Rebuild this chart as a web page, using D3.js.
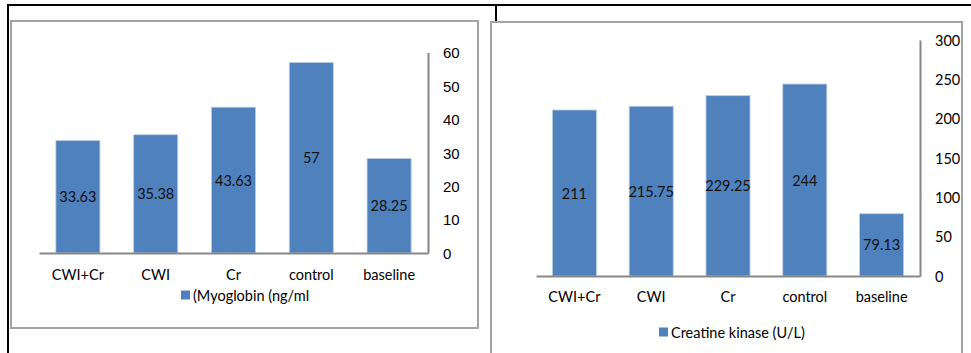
<!DOCTYPE html>
<html>
<head>
<meta charset="utf-8">
<script src="https://cdn.jsdelivr.net/npm/d3@7"></script>
<style>
  html, body { margin: 0; padding: 0; background: #fff; }
  svg { display: block; }
  .cal { font-family: Lato, "Open Sans", sans-serif; }
  .ari { font-family: "Liberation Sans", Arial, sans-serif; }
</style>
</head>
<body>
<svg id="chart" width="971" height="353"></svg>
<script>
// Groups shared by both panels
const categories = ["CWI+Cr", "CWI", "Cr", "control", "baseline"];

// Myoglobin panel
const myoglobinValues = [33.63, 35.38, 43.63, 57, 28.25];
const myoglobinTicks = [0, 10, 20, 30, 40, 50, 60];
const myoglobinLegend = "(Myoglobin (ng/ml";

// Creatine kinase panel
const ckValues = [211, 215.75, 229.25, 244, 79.13];
const ckTicks = [0, 50, 100, 150, 200, 250, 300];
const ckLegend = "Creatine kinase (U/L)";

const BAR = "#4f81bd";
const AXIS = "#878787";
const FRAME = "#a3a3a3";

const svg = d3.select("#chart");

// Page rules (table borders)
svg.append("line").attr("x1", 7).attr("x2", 971).attr("y1", 5).attr("y2", 5)
  .attr("stroke", "#000").attr("stroke-width", 2);
svg.append("line").attr("x1", 8).attr("x2", 8).attr("y1", 4).attr("y2", 353)
  .attr("stroke", "#000").attr("stroke-width", 2);
svg.append("line").attr("x1", 496).attr("x2", 496).attr("y1", 4).attr("y2", 21)
  .attr("stroke", "#000").attr("stroke-width", 2);

function panel(cfg) {
  const g = svg.append("g");

  // chart area frame
  g.append("rect")
    .attr("x", cfg.frame[0]).attr("y", cfg.frame[1])
    .attr("width", cfg.frame[2]).attr("height", cfg.frame[3])
    .attr("fill", "#fff").attr("stroke", FRAME).attr("stroke-width", 2);

  const x = d3.scaleBand()
    .domain(categories)
    .range([cfg.left, cfg.right])
    .paddingInner(cfg.padIn)
    .paddingOuter(cfg.padIn / 2);

  const y = d3.scaleLinear()
    .domain([0, d3.max(cfg.ticks)])
    .range([cfg.bottom, cfg.top]);

  // bars
  g.selectAll("rect.bar")
    .data(cfg.values)
    .join("rect")
    .attr("class", "bar")
    .attr("x", (d, i) => x(categories[i]))
    .attr("width", x.bandwidth())
    .attr("y", d => y(d))
    .attr("height", d => y(0) - y(d))
    .attr("fill", BAR)
    .attr("stroke", "#b8cce4")
    .attr("stroke-width", 0.8);

  // value labels in the middle of each bar
  g.selectAll("text.val")
    .data(cfg.values)
    .join("text")
    .attr("class", "val cal")
    .attr("x", (d, i) => x(categories[i]) + x.bandwidth() / 2)
    .attr("y", d => (y(d) + y(0)) / 2)
    .attr("text-anchor", "middle")
    .attr("dominant-baseline", "central")
    .attr("font-size", 14.5)
    .attr("fill", "#111")
    .text(d => d);

  // value axis on the right
  const ya = g.append("g")
    .attr("transform", `translate(${cfg.right},0)`)
    .call(d3.axisRight(y).tickValues(cfg.ticks).tickSize(0)
      .tickPadding(cfg.tickPad).tickFormat(d3.format("d")));
  ya.select(".domain").attr("stroke", AXIS).attr("stroke-width", 2);
  ya.selectAll("text")
    .attr("class", cfg.tickFont)
    .attr("font-size", cfg.tickSize)
    .attr("fill", "#000")
    .attr("dy", "0.36em");

  // category axis
  const xa = g.append("g")
    .attr("transform", `translate(0,${cfg.bottom})`)
    .call(d3.axisBottom(x).tickSize(0).tickPadding(cfg.catPad));
  xa.select(".domain").attr("stroke", AXIS).attr("stroke-width", 2);
  xa.selectAll("text")
    .attr("class", "cal")
    .attr("font-size", 14.5)
    .attr("fill", "#000");

  // legend
  const lg = g.append("g").attr("transform", `translate(${cfg.legend[0]},${cfg.legend[1]})`);
  lg.append("rect").attr("x", 0).attr("y", -4.5).attr("width", 9).attr("height", 9).attr("fill", BAR);
  lg.append("text")
    .attr("class", "cal")
    .attr("x", 12).attr("y", 0)
    .attr("dominant-baseline", "central")
    .attr("font-size", 14.5)
    .attr("fill", "#000")
    .text(cfg.legendText);
}

panel({
  frame: [11, 21, 467, 307],
  left: 39, right: 428, top: 52.5, bottom: 253,
  padIn: 0.434,
  values: myoglobinValues, ticks: myoglobinTicks,
  tickPad: 15, tickFont: "ari", tickSize: 15,
  catPad: 17,
  legend: [181, 295], legendText: myoglobinLegend
});

panel({
  frame: [491, 22, 471, 345],
  left: 536, right: 920, top: 40, bottom: 276,
  padIn: 0.427,
  values: ckValues, ticks: ckTicks,
  tickPad: 15, tickFont: "cal", tickSize: 14.5,
  catPad: 16,
  legend: [659, 332], legendText: ckLegend
});
</script>
</body>
</html>
